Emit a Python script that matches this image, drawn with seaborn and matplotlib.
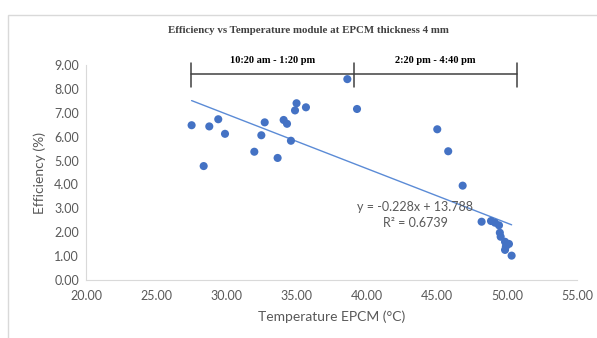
import matplotlib
matplotlib.use("Agg")
import matplotlib.pyplot as plt
import matplotlib.patches as mpatches
import numpy as np
import pandas as pd
import seaborn as sns

# Temperature of the EPCM (degC) and module efficiency (%)
temperature = [27.53, 28.39, 28.79, 29.43, 29.91, 32.00, 32.50, 32.74, 33.66, 34.09,
               34.33, 34.61, 34.90, 35.01, 35.68, 38.63, 39.32, 45.04, 45.82, 46.85,
               48.20, 48.87, 49.15, 49.44, 49.50, 49.56, 49.87, 50.15, 49.93, 49.87, 50.34]
efficiency = [6.48, 4.77, 6.43, 6.73, 6.12, 5.37, 6.06, 6.60, 5.11, 6.70,
              6.54, 5.83, 7.10, 7.40, 7.23, 8.41, 7.16, 6.31, 5.39, 3.95,
              2.44, 2.47, 2.40, 2.29, 1.98, 1.81, 1.60, 1.51, 1.40, 1.26, 1.02]

# linear trendline reported on the chart
slope = -0.228
intercept = 13.788
r_squared = 0.6739

# time periods marked above the points
period_edges = [27.5, 39.1, 50.7]
period_labels = ["10:20 am - 1:20 pm", "2:20 pm - 4:40 pm"]

x_ticks = [20, 25, 30, 35, 40, 45, 50, 55]
y_ticks = [0, 1, 2, 3, 4, 5, 6, 7, 8, 9]

df = pd.DataFrame({"temperature": temperature, "efficiency": efficiency})

sns.set_style("white")
plt.rcParams["font.family"] = ["Lato", "DejaVu Sans"]

fig = plt.figure(figsize=(5.97, 3.38), dpi=100)
ax = fig.add_axes([0.144, 0.1716, 0.8225, 0.636])

blue = "#4472C4"
grey = "#595959"
axis_grey = "#d9d9d9"

sns.scatterplot(data=df, x="temperature", y="efficiency", ax=ax,
                color=blue, s=34, edgecolor="none", zorder=3)

trend_x = np.array([min(temperature), max(temperature)])
sns.lineplot(x=trend_x, y=slope * trend_x + intercept, ax=ax,
             color="#5b8bd6", linewidth=1.0, zorder=2)

ax.set_xlim(20, 55)
ax.set_ylim(0, 9)
ax.set_xticks(x_ticks)
ax.set_yticks(y_ticks)
ax.set_xticklabels([f"{v:.2f}" for v in x_ticks])
ax.set_yticklabels([f"{v:.2f}" for v in y_ticks])
ax.tick_params(axis="both", labelsize=9, colors=axis_grey, labelcolor=grey,
               length=3, width=0.8, direction="out", pad=2)
ax.tick_params(axis="x", pad=4)

for side in ["top", "right"]:
    ax.spines[side].set_visible(False)
for side in ["left", "bottom"]:
    ax.spines[side].set_color(axis_grey)
    ax.spines[side].set_linewidth(0.8)

ax.set_xlabel("Temperature EPCM (°C)", fontsize=10, color=grey, labelpad=6)
ax.set_ylabel("Efficiency (%)", fontsize=10, color=grey, labelpad=6)

# period brackets
bracket_color = "#404040"
ax.plot([period_edges[0], period_edges[-1]], [8.61, 8.61],
        color=bracket_color, lw=1.1, clip_on=False)
for edge in period_edges:
    ax.plot([edge, edge], [8.08, 9.08], color=bracket_color, lw=1.1, clip_on=False)
for i, label in enumerate(period_labels):
    ax.text((period_edges[i] + period_edges[i + 1]) / 2, 9.17, label,
            ha="center", va="center", fontsize=7.5, fontweight="bold",
            family=["Liberation Serif", "DejaVu Serif"], color="black", clip_on=False)

ax.text(43.45, 3.07, f"y = {slope}x + {intercept}", ha="center", va="center",
        fontsize=9, color=grey)
ax.text(43.45, 2.40, f"R² = {r_squared}", ha="center", va="center",
        fontsize=9, color=grey)

fig.text(0.517, 0.911, "Efficiency vs Temperature module at EPCM thickness 4 mm",
         ha="center", va="center", fontsize=7.8, fontweight="bold",
         family=["Liberation Serif", "DejaVu Serif"], color="#404040")

# chart area border
fig.patches.append(mpatches.Rectangle((8 / 597, -0.05), 1.2, 1.05 - 15 / 338 + 0.0,
                                      transform=fig.transFigure, fill=False,
                                      edgecolor=axis_grey, linewidth=1.0))

fig.savefig("out.png", dpi=100)
